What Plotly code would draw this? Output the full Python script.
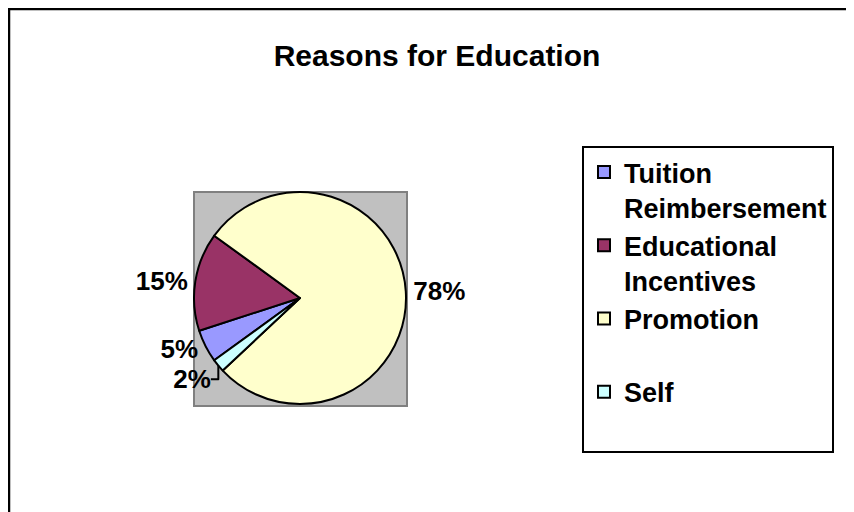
import plotly.graph_objects as go

categories = ["Tuition<br>Reimbersement", "Educational<br>Incentives", "Promotion<br> ", "Self<br> "]
values = [5, 15, 78, 2]
colors = ["#9999FF", "#993366", "#FFFFCC", "#CCFFFF"]

W, H = 854, 512
OFF = 8  # page body margin
FONT = "Liberation Sans, Arial, sans-serif"

def px_x(x):
    return (x - OFF) / W

def px_y(y):
    return 1 - (y - OFF) / H

fig = go.Figure(go.Pie(
    labels=categories,
    values=values,
    sort=False,
    direction="clockwise",
    rotation=234,
    marker=dict(colors=colors, line=dict(color="black", width=2)),
    textposition="outside",
    texttemplate="%{percent:.0%}",
    textfont=dict(family=FONT, size=26, color="black", weight="bold"),
    domain=dict(x=[px_x(194), px_x(406)], y=[px_y(404), px_y(192)]),
    hoverinfo="label+percent",
))

fig.update_layout(
    width=W, height=H,
    margin=dict(l=0, r=0, t=0, b=0, autoexpand=False),
    paper_bgcolor="white",
    plot_bgcolor="white",
    title=dict(text="Reasons for Education", x=px_x(437), y=px_y(55), xanchor="center", yanchor="middle",
               font=dict(family=FONT, size=30, color="black", weight="bold")),
    legend=dict(x=px_x(582), y=px_y(146), xanchor="left", yanchor="top",
                bordercolor="black", borderwidth=2, bgcolor="white",
                font=dict(family=FONT, size=27, color="black", weight="bold"),
                valign="top", traceorder="normal"),
    shapes=[
        dict(type="rect", xref="paper", yref="paper", x0=px_x(194), x1=px_x(407), y0=px_y(406), y1=px_y(192),
             fillcolor="#C0C0C0", line=dict(color="#808080", width=2), layer="below"),
        dict(type="rect", xref="paper", yref="paper", x0=px_x(9), x1=px_x(900), y0=px_y(560), y1=px_y(9),
             fillcolor="rgba(0,0,0,0)", line=dict(color="black", width=2.5), layer="above"),
    ],
)

fig.write_html("out.html")
